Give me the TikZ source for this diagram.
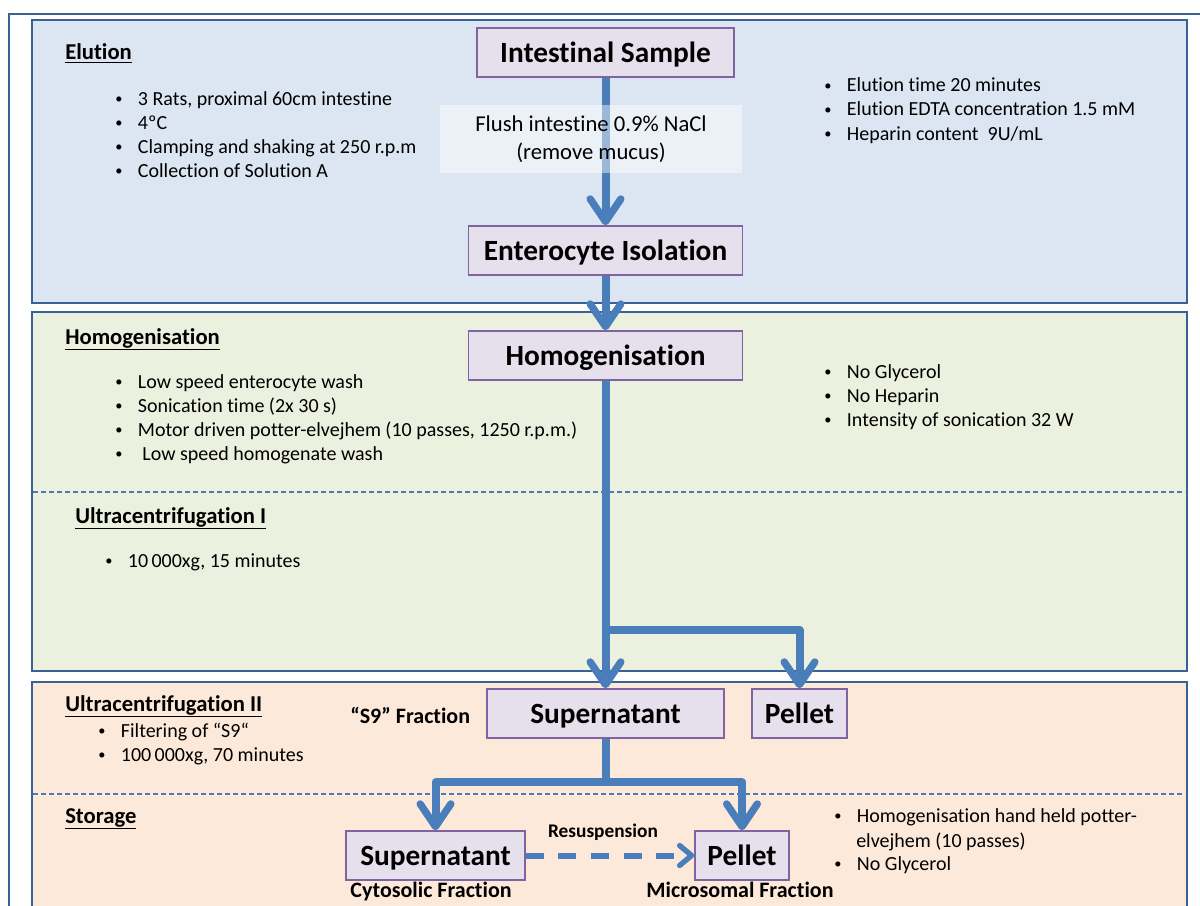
\documentclass[tikz,border=0pt]{standalone}
\usepackage{fontspec}
\usepackage{graphicx}
\setmainfont[RawFeature={-liga;-clig;-calt;-dlig;-rlig}]{Carlito}
\usetikzlibrary{arrows.meta}
\definecolor{panelb}{HTML}{3A6194}
\definecolor{fillblue}{HTML}{DCE6F2}
\definecolor{fillgreen}{HTML}{EBF1DE}
\definecolor{fillpeach}{HTML}{FDE9D9}
\definecolor{boxfill}{HTML}{E5E0EC}
\definecolor{boxdraw}{HTML}{8064A2}
\definecolor{arrowc}{HTML}{4A7EBB}
\newcommand\smbul{\raisebox{0.12ex}{\scalebox{0.72}{•}}}
\newcommand\bl[4]{\node[btxt] (#1) at (#2,#3) {\makebox[17pt][l]{\smbul}#4};}
\begin{document}
\begin{tikzpicture}[x=0.75pt,y=-0.75pt,
  panel/.style={draw=panelb, line width=2.2pt},
  outer/.style={draw=panelb, line width=2pt},
  divider/.style={draw=arrowc, line width=0.8pt, dash pattern=on 3.5pt off 2.5pt},
  stepbox/.style={draw=boxdraw, fill=boxfill, line width=1.1pt, inner sep=0pt,
     minimum height=49*0.75pt, text height=14.6pt, text depth=0pt,
     font=\fontsize{22}{26}\selectfont\bfseries},
  btxt/.style={anchor=base west, inner sep=0pt, font=\fontsize{15}{18}\selectfont},
  head/.style={anchor=base west, inner sep=0pt, font=\fontsize{17}{20}\selectfont\bfseries},
  lbl/.style={anchor=base, inner sep=0pt, font=\fontsize{16.5}{20}\selectfont\bfseries},
  flow/.style={draw=arrowc, line width=6pt, line join=round,
     -{Straight Barb[length=17pt, width=23pt, line width=5.5pt, round]}},
  dflow/.style={draw=arrowc, line width=4.5pt, dash pattern=on 13.5pt off 11pt,
     -{Straight Barb[length=9pt, width=15pt, line width=4pt, round]}}
]
\clip (0,0) rectangle (1200,906);
\fill[white] (0,0) rectangle (1200,906);
\draw[outer] (9,14) rectangle (1250,960);
% panels
\draw[panel, fill=fillblue] (32,20) rectangle (1187,303);
\draw[panel, fill=fillgreen] (32,312) rectangle (1187,671);
\draw[panel, fill=fillpeach] (32,682) rectangle (1187,960);
\draw[divider] (33,492) -- (1185,492);
\draw[divider] (33,794) -- (1185,794);

% headings
\node[head] (hElu) at (65,60) {\underline{Elution}};
\node[head] (hHom) at (65,344) {\underline{Homogenisation}};
\node[head] (hUc1) at (75,523) {\underline{Ultracentrifugation I}};
\node[head] (hUc2) at (65,711) {\underline{Ultracentrifugation II}};
\node[head] (hSto) at (65,823) {\underline{Storage}};

% bullet lists
\bl{e1}{115}{105}{3 Rats, proximal 60cm intestine}
\bl{e2}{115}{129}{4ºC}
\bl{e3}{115}{153}{Clamping and shaking at 250 r.p.m}
\bl{e4}{115}{177}{Collection of Solution A}
\bl{r1}{824}{92}{Elution time 20 minutes}
\bl{r2}{824}{116}{Elution EDTA concentration 1.5 mM}
\bl{r3}{824}{140}{Heparin content\ \ 9U/mL}
\bl{h1}{115}{388}{Low speed enterocyte wash}
\bl{h2}{115}{412}{Sonication time (2x 30 s)}
\bl{h3}{115}{436}{Motor driven potter-elvejhem (10 passes, 1250 r.p.m.)}
\bl{h4}{115}{460}{\ Low speed homogenate wash}
\bl{g1}{824}{378}{No Glycerol}
\bl{g2}{824}{402}{No Heparin}
\bl{g3}{824}{426}{Intensity of sonication 32 W}
\bl{u1}{105}{567}{10\,000xg, 15 minutes}
\bl{v1}{98}{737}{Filtering of “S9“}
\bl{v2}{98}{761}{100\,000xg, 70 minutes}
\bl{s1}{834}{822}{Homogenisation hand held potter-}
\node[btxt] (s2) at (856,847) {elvejhem (10 passes)};
\bl{s3}{834}{870}{No Glycerol}

% process boxes
\node[stepbox, minimum width=257*0.75pt] (intes) at (605.5,52.5) {Intestinal Sample};
\node[stepbox, minimum width=274*0.75pt] (ent) at (605.5,250.5) {Enterocyte Isolation};
\node[stepbox, minimum width=274*0.75pt] (hom) at (605.5,355.5) {Homogenisation};
\node[stepbox, minimum width=237*0.75pt] (sup1) at (605.5,713.5) {Supernatant};
\node[stepbox, minimum width=95*0.75pt] (pel1) at (799.5,713.5) {Pellet};
\node[stepbox, minimum width=179*0.75pt] (sup2) at (435.5,855.5) {Supernatant};
\node[stepbox, minimum width=94*0.75pt] (pel2) at (742,855.5) {Pellet};

% labels
\node[lbl, anchor=base west] (s9) at (350,723) {“S9” Fraction};
\node[lbl] (cyto) at (431,897) {Cytosolic Fraction};
\node[lbl] (micro) at (740,897) {Microsomal Fraction};
\node[lbl, font=\fontsize{14.5}{18}\selectfont\bfseries] (resus) at (603,837) {Resuspension};

% connectors
\draw[flow] (intes.south) -- (ent.north);
\draw[flow] (ent.south) -- (hom.north);
\coordinate (br1) at (605.5,630);
\draw[flow] (hom.south) -- (sup1.north);
\draw[flow] (br1) -| (pel1.north);
\coordinate (br2) at (605.5,782);
\draw[flow] (sup1.south) -- (br2) -| (sup2.north);
\draw[flow] (br2) -| (pel2.north);
\draw[dflow] (sup2.east) -- (pel2.west);

% flush note (semi-transparent, over the arrow)
\node[fill=white, fill opacity=0.45, inner sep=0pt, minimum width=302*0.75pt,
      minimum height=68*0.75pt] (flush) at (591,139) {};
\node[anchor=base, inner sep=0pt, font=\fontsize{17}{20}\selectfont] (fl1) at (591,132) {Flush intestine 0.9\% NaCl};
\node[anchor=base, inner sep=0pt, font=\fontsize{17}{20}\selectfont] (fl2) at (591,159) {(remove mucus)};
\end{tikzpicture}
\end{document}
